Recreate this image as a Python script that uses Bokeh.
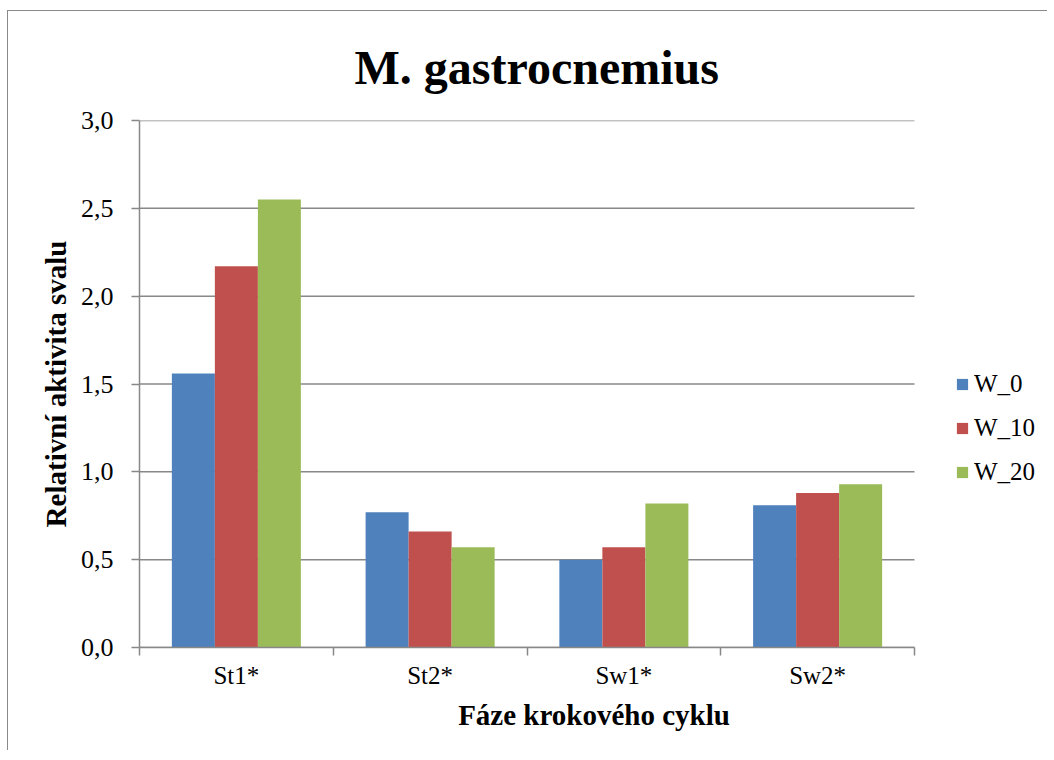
import numpy as np
from bokeh.plotting import figure
from bokeh.models import Range1d, FixedTicker, Legend, LegendItem
from bokeh.embed import file_html
from bokeh.resources import INLINE

# ---- data ----
categories = ["St1*", "St2*", "Sw1*", "Sw2*"]
series_names = ["W_0", "W_10", "W_20"]
w_0 = [1.56, 0.77, 0.50, 0.81]
w_10 = [2.17, 0.66, 0.57, 0.88]
w_20 = [2.55, 0.57, 0.82, 0.93]
y_ticks = [0.0, 0.5, 1.0, 1.5, 2.0, 2.5, 3.0]
colors = ["#4F81BD", "#C0504D", "#9BBB59"]

FONT = "Liberation Serif"
GRAY = "#888888"

W, H = 1040, 740
LEFT, TOP, FRAME_W, FRAME_H = 131, 108, 775, 528
n = len(categories)
# frame extends to the right edge so the legend (drawn inside the frame) is not clipped
x_end = n * (W - LEFT) / FRAME_W

p = figure(width=W, height=H, output_backend="svg", toolbar_location=None,
           x_range=Range1d(0, x_end), y_range=Range1d(0, 3),
           min_border_left=LEFT, min_border_right=0, min_border_top=TOP,
           min_border_bottom=H - TOP - FRAME_H)
p.styles = {"margin-left": "7px", "margin-top": "10px",
            "border-left": "1px solid #8a8a8a", "border-top": "1px solid #8a8a8a"}
p.outline_line_color = None

# title
p.title.text = "M. gastrocnemius"
p.title.text_font = FONT
p.title.text_font_size = "48px"
p.title.text_font_style = "bold"
p.title.align = "left"
p.title.offset = 215
p.title.standoff = 54
p.title.text_color = "black"

# horizontal gridlines (only across the category area)
p.xgrid.visible = False
p.ygrid.visible = False
p.segment(x0=[0] * len(y_ticks), x1=[n] * len(y_ticks), y0=y_ticks, y1=y_ticks,
          line_color=GRAY, line_width=1.5)

centers = np.arange(n) + 0.5
bw = 0.222
offsets = [-bw, 0.0, bw]
renderers = []
for vals, off, col in zip([w_0, w_10, w_20], offsets, colors):
    r = p.vbar(x=centers + off, top=vals, width=bw, bottom=0,
               fill_color=col, line_color=None)
    renderers.append(r)

# x axis: labels at centers, ticks at category boundaries
xt = FixedTicker(ticks=list(centers), minor_ticks=list(range(n + 1)))
p.xaxis.ticker = xt
p.xaxis.bounds = (0, n)
p.xaxis.major_label_overrides = {float(c): lab for c, lab in zip(centers, categories)}
p.xaxis.major_tick_out = 0
p.xaxis.major_tick_in = 0
p.xaxis.minor_tick_out = 8
p.xaxis.minor_tick_in = 0
p.xaxis.minor_tick_line_color = GRAY
p.xaxis.minor_tick_line_width = 1.5
p.xaxis.axis_line_color = GRAY
p.xaxis.axis_line_width = 1.5
p.xaxis.major_label_text_font = FONT
p.xaxis.major_label_text_font_size = "25px"
p.xaxis.major_label_text_color = "black"
p.xaxis.major_label_standoff = 6
p.xaxis.axis_label = "Fáze krokového cyklu"
p.xaxis.axis_label_text_font = FONT
p.xaxis.axis_label_text_font_size = "29px"
p.xaxis.axis_label_text_font_style = "bold"
p.xaxis.axis_label_text_color = "black"
p.xaxis.axis_label_standoff = 7

# y axis
p.yaxis.ticker = FixedTicker(ticks=y_ticks, minor_ticks=[])
p.yaxis.major_label_overrides = {v: f"{v:.1f}".replace(".", ",") for v in y_ticks}
p.yaxis.major_tick_out = 8
p.yaxis.major_tick_in = 0
p.yaxis.major_tick_line_color = GRAY
p.yaxis.major_tick_line_width = 1.5
p.yaxis.minor_tick_line_color = None
p.yaxis.axis_line_color = GRAY
p.yaxis.axis_line_width = 1.5
p.yaxis.major_label_text_font = FONT
p.yaxis.major_label_text_font_size = "26px"
p.yaxis.major_label_text_color = "black"
p.yaxis.major_label_standoff = 18
p.yaxis.axis_label = "Relativní aktivita svalu"
p.yaxis.axis_label_text_font = FONT
p.yaxis.axis_label_text_font_size = "29px"
p.yaxis.axis_label_text_font_style = "bold"
p.yaxis.axis_label_text_color = "black"
p.yaxis.axis_label_standoff = 6

legend = Legend(items=[LegendItem(label=nm, renderers=[r]) for nm, r in zip(series_names, renderers)],
                location=(816, 161))
legend.border_line_color = None
legend.background_fill_alpha = 0
legend.padding = 0
legend.margin = 0
legend.spacing = 16
legend.glyph_width = 14
legend.glyph_height = 14
legend.label_standoff = 5
legend.label_text_font = FONT
legend.label_text_font_size = "25px"
legend.label_text_color = "black"
p.add_layout(legend)

open("out.html", "w").write(file_html(p, INLINE))
